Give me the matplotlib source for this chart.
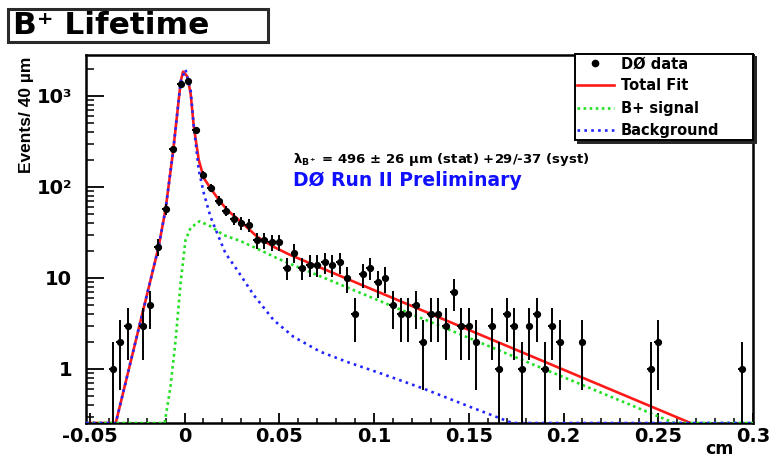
import matplotlib
matplotlib.use("Agg")
import matplotlib.pyplot as plt
import numpy as np
from matplotlib.patches import Rectangle
from matplotlib.lines import Line2D
from matplotlib.ticker import FixedLocator, FixedFormatter, NullFormatter

plt.rcParams['font.family'] = ['DejaVu Sans']
plt.rcParams['mathtext.default'] = 'regular'

W, H, DPI = 772, 459, 100

# ---------------- data ----------------
bin_centers = [-0.038, -0.034, -0.030, -0.022, -0.018, -0.014, -0.010, -0.006, -0.002,
               0.002, 0.006, 0.010, 0.014, 0.018, 0.022, 0.026, 0.030, 0.034, 0.038,
               0.042, 0.046, 0.050, 0.054, 0.058, 0.062, 0.066, 0.070, 0.074, 0.078,
               0.082, 0.086, 0.090, 0.094, 0.098, 0.102, 0.106, 0.110, 0.114, 0.118,
               0.122, 0.126, 0.130, 0.134, 0.138, 0.142, 0.146, 0.150, 0.154,
               0.162, 0.166, 0.170, 0.174, 0.178, 0.182, 0.186, 0.190, 0.194, 0.198,
               0.210, 0.246, 0.250, 0.294]
counts = [1, 2, 3, 3, 5, 22, 57, 260, 1370,
          1470, 420, 137, 97, 71, 55, 45, 40, 38, 26,
          26, 25, 25, 13, 19, 13, 14, 14, 15, 14,
          15, 10, 4, 11, 13, 9, 10, 5, 4, 4,
          5, 2, 4, 4, 3, 7, 3, 3, 2,
          3, 1, 4, 3, 1, 3, 4, 1, 3, 2,
          2, 1, 2, 1]
bin_half_width = 0.002

fit_total_x = [-0.052, -0.0363, -0.0137, -0.010, -0.006, -0.002, -0.0008, 0.0014, 0.0032,
               0.0049, 0.0075, 0.0102, 0.0137, 0.019, 0.0233, 0.0295, 0.0383, 0.047,
               0.0558, 0.267]
fit_total_y = [0.255, 0.255, 21.9, 57, 250, 1450, 1850, 1650, 1070,
               460, 198, 125, 97, 68, 54, 42, 28.4, 22,
               17.9, 0.255]

signal_x = [-0.052, -0.0105, -0.0074, -0.0047, -0.0021, 0.0005, 0.0032, 0.0079, 0.0137,
            0.0207, 0.0295, 0.0383, 0.0488, 0.0558, 0.2584, 0.3]
signal_y = [0.255, 0.255, 0.64, 2.08, 8.7, 26, 35.5, 42, 37,
            29.6, 25.5, 21, 16.5, 14.3, 0.255, 0.255]

background_x = [-0.052, -0.0363, -0.0137, -0.010, -0.006, -0.002, 0.0005, 0.0032, 0.0049,
                0.0075, 0.0102, 0.0137, 0.018, 0.0216, 0.0277, 0.0365, 0.047, 0.0575,
                0.0716, 0.0856, 0.1032, 0.126, 0.1505, 0.173, 0.3]
background_y = [0.255, 0.255, 21.9, 57, 250, 1450, 1950, 1164, 460,
                154, 85, 47, 28.4, 18.7, 12.3, 6.5, 3.45, 2.26,
                1.55, 1.2, 0.9, 0.61, 0.385, 0.255, 0.255]

x_ticks = [-0.05, 0, 0.05, 0.1, 0.15, 0.2, 0.25, 0.3]
x_tick_labels = ["-0.05", "0", "0.05", "0.1", "0.15", "0.2", "0.25", "0.3"]
y_ticks = [1, 10, 100, 1000]
y_tick_labels = ["1", "10", "10²", "10³"]
x_range = (-0.052, 0.3)
y_range = (0.255, 2820)

legend_labels = ["DØ data", "Total Fit", "B+ signal", "Background"]
title_text = "B⁺ Lifetime"
result_text = r"λ$_{B^+}$ = 496 ± 26 µm (stat) +29/-37 (syst)"
prelim_text = "DØ Run II Preliminary"
y_label = "Events/ 40 µm"
x_label = "cm"


def fx(p):
    return p / W


def fy(p):
    return 1 - p / H


fig = plt.figure(figsize=(W / DPI, H / DPI), dpi=DPI)
fig.patch.set_facecolor('white')
ax = fig.add_axes([fx(86), fy(423), (753 - 86) / W, (423 - 55) / H])
ax.set_yscale('log', nonpositive='clip')
ax.set_xlim(*x_range)
ax.set_ylim(*y_range)

# curves
l_total, = ax.plot(fit_total_x, fit_total_y, color='#ff1a1a', lw=1.9, zorder=2)
l_sig, = ax.plot(signal_x, signal_y, color='#22e022', lw=1.9, ls=(0, (1, 1.3)), zorder=3)
l_bkg, = ax.plot(background_x, background_y, color='#2424ff', lw=1.9, ls=(0, (1, 1.6)), zorder=3)

# data points with sqrt(N) errors
c = np.asarray(counts, dtype=float)
err = np.sqrt(c)
lower = c - np.maximum(c - err, 0.01)
ax.errorbar(bin_centers, counts, yerr=[lower, err], xerr=bin_half_width,
            fmt='o', color='black', ms=4.2, elinewidth=1.4, capsize=0, zorder=4)

# axes styling
for s in ax.spines.values():
    s.set_linewidth(1.8)
    s.set_color('black')
ax.xaxis.set_major_locator(FixedLocator(x_ticks))
ax.xaxis.set_major_formatter(FixedFormatter(x_tick_labels))
ax.xaxis.set_minor_locator(FixedLocator(np.arange(-0.05, 0.3001, 0.01)))
ax.yaxis.set_major_locator(FixedLocator(y_ticks))
ax.yaxis.set_major_formatter(FixedFormatter(y_tick_labels))
yminor = [m * 10.0 ** e for e in range(-1, 4) for m in range(2, 10)]
ax.yaxis.set_minor_locator(FixedLocator(yminor))
ax.yaxis.set_minor_formatter(NullFormatter())
ax.tick_params(axis='x', which='major', direction='in', length=7.5, width=1.3,
               top=False, pad=3, labelsize=14)
ax.tick_params(axis='x', which='minor', direction='in', length=3.8, width=1.1, top=False)
ax.tick_params(axis='y', which='major', direction='in', length=13, width=1.3,
               right=False, pad=10, labelsize=14)
ax.tick_params(axis='y', which='minor', direction='in', length=5.5, width=1.1, right=False)
for lab in ax.get_xticklabels() + ax.get_yticklabels():
    lab.set_fontweight('bold')

# legend
h_data = Line2D([], [], marker='o', ls='none', color='black', ms=4.5)
leg = ax.legend([h_data, l_total, l_sig, l_bkg], legend_labels,
                loc='upper left',
                bbox_to_anchor=(fx(575), fy(142), (753 - 575) / W, (142 - 54) / H),
                bbox_transform=fig.transFigure, mode='expand', borderaxespad=0,
                fancybox=False, edgecolor='black', framealpha=1,
                shadow={'color': '0.15', 'alpha': 1},
                prop=dict(family='DejaVu Sans', weight='bold', size=10.5),
                handlelength=2.5, handletextpad=0.5, labelspacing=0.5, borderpad=0.15)
leg.get_frame().set_linewidth(1.4)
leg.set_zorder(6)

# title box
fig.add_artist(Rectangle((fx(8), fy(42)), (268 - 8) / W, (42 - 9) / H,
                         transform=fig.transFigure, facecolor='white',
                         edgecolor='#2a2a2a', lw=2.2))
fig.text(fx(13), fy(34), title_text, fontsize=22.5, fontweight='bold',
         family='DejaVu Sans', va='baseline', ha='left')

# annotations
fig.text(fx(293), fy(163), result_text, fontsize=9.5, fontweight='bold',
         family='DejaVu Sans', va='baseline', ha='left', color='black')
fig.text(fx(293), fy(186), prelim_text, fontsize=13.5, fontweight='bold',
         family='DejaVu Sans', va='baseline', ha='left', color='#1010ff')

# axis labels
fig.text(fx(27), fy(57), y_label, rotation=90, fontsize=12.5, fontweight='bold',
         family='Liberation Sans', ha='center', va='top')
fig.text(fx(734), fy(458), x_label, fontsize=12.5, fontweight='bold',
         family='DejaVu Sans', ha='right', va='bottom')

fig.savefig('out.png', dpi=DPI, facecolor='white')
